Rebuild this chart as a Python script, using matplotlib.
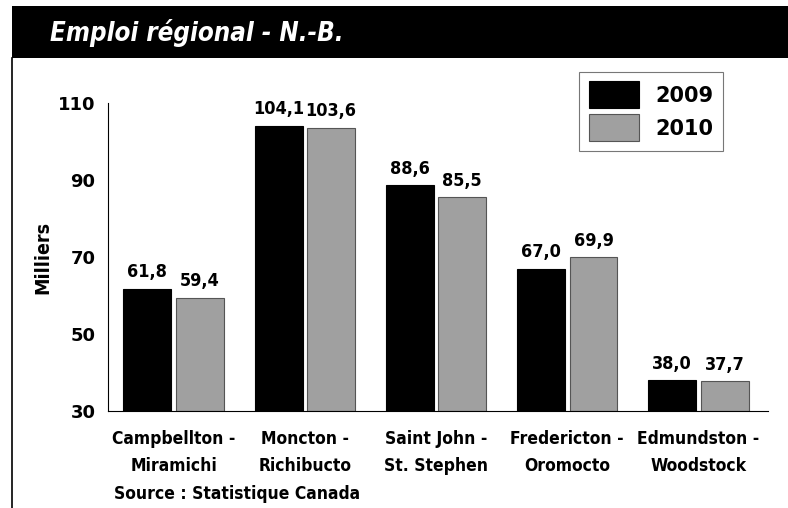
import matplotlib.pyplot as plt
import numpy as np
from matplotlib.patches import Rectangle

regions = ['Campbellton -\nMiramichi', 'Moncton -\nRichibucto', 'Saint John -\nSt. Stephen',
           'Fredericton -\nOromocto', 'Edmundston -\nWoodstock']
emp_2009 = [61.8, 104.1, 88.6, 67.0, 38.0]
emp_2010 = [59.4, 103.6, 85.5, 69.9, 37.7]
years = ['2009', '2010']
yticks = [30, 50, 70, 90, 110]

# condensed bold text, close to the narrow font in the original
nar = dict(family='DejaVu Sans', fontstretch='condensed', fontweight='bold')

fig = plt.figure(figsize=(7.88, 5.08), dpi=100)

# header band and left frame line
fig.patches.append(Rectangle((12 / 788, 1 - 58 / 508), 1, 52 / 508, transform=fig.transFigure,
                             facecolor='black', edgecolor='none'))
fig.lines.append(plt.Line2D([12 / 788, 12 / 788], [0, 1 - 58 / 508], transform=fig.transFigure,
                            color='black', lw=1.2))
fig.text(50 / 788, 1 - 33 / 508, 'Emploi régional - N.-B.', color='white', fontsize=18.5,
         fontstyle='italic', va='center', ha='left', **nar)

ax = fig.add_axes([108 / 788, 1 - 411 / 508, 660 / 788, 308 / 508])
x = np.arange(len(regions))
w = 0.365
off = 0.2
ax.bar(x - off, np.array(emp_2009) - 30, w, bottom=30, color='black', edgecolor='black',
       lw=0.8, label=years[0])
ax.bar(x + off, np.array(emp_2010) - 30, w, bottom=30, color='#a0a0a0', edgecolor='#555555',
       lw=0.8, label=years[1])

for xs, vals in ((x - off, emp_2009), (x + off, emp_2010)):
    for xi, v in zip(xs, vals):
        ax.text(xi, v + 1.9, f'{v:.1f}'.replace('.', ','), ha='center', va='bottom',
                fontsize=13, **nar)

ax.set_xlim(-0.5, 4.53)
ax.set_ylim(30, 110)
ax.set_yticks(yticks)
ax.set_yticklabels([str(t) for t in yticks], fontsize=13, fontweight='bold')
ax.set_xticks(x)
ax.set_xticklabels(regions, fontsize=12.5, linespacing=1.6, **nar)
ax.tick_params(axis='x', length=0, pad=14)
ax.tick_params(axis='y', length=0, pad=9)
for s in ('top', 'right'):
    ax.spines[s].set_visible(False)
ax.spines['left'].set_linewidth(0.8)
ax.spines['bottom'].set_linewidth(0.8)
ax.set_ylabel('Milliers', fontsize=14, **nar)
ax.yaxis.set_label_coords(-(108 - 52) / 660, 0.5)

leg = ax.legend(loc='upper right', bbox_to_anchor=((723 - 108) / 660, (411 - 72) / 308),
                prop={'size': 15, 'weight': 'bold'}, frameon=True, fancybox=False,
                handlelength=2.4, handleheight=1.6, borderpad=0.45, labelspacing=0.3,
                handletextpad=0.8, borderaxespad=0)
leg.get_frame().set_edgecolor('#555555')
leg.get_frame().set_linewidth(0.8)

fig.text(114 / 788, 1 - 494 / 508, 'Source : Statistique Canada', fontsize=12.5,
         va='center', ha='left', **nar)

fig.savefig('out.png', dpi=100)
